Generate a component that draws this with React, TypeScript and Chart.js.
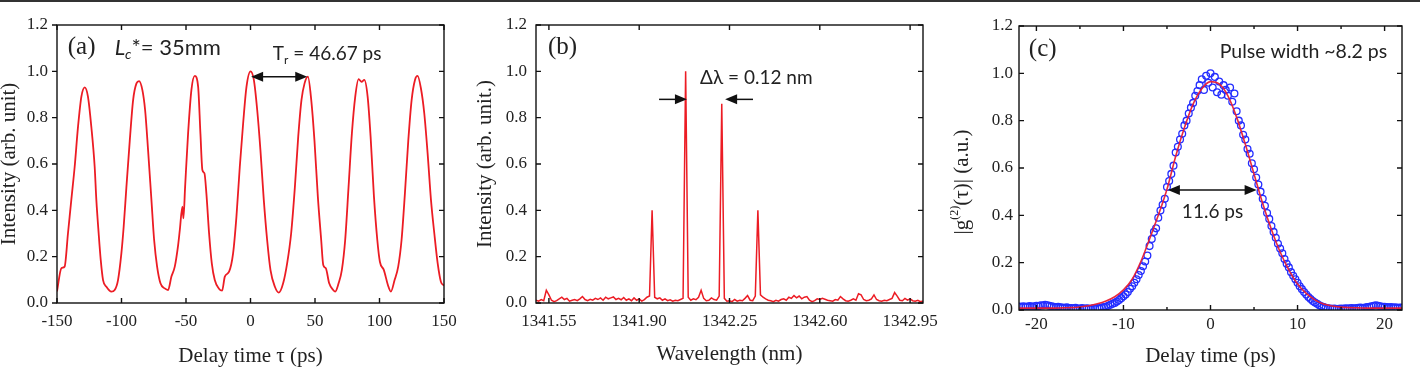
import React, { useEffect, useRef } from "react";
import { Chart, registerables } from "chart.js";

Chart.register(...registerables);

const SERIF = '"Liberation Serif", "Times New Roman", serif';
const SANS = 'Lato, "Open Sans", sans-serif';
const INK = "#222";
const RED = "rgb(236,28,36)";
const BLUE = "rgb(35,45,255)";

// ---------- (a) pulse-train autocorrelation ----------
const DELAY_A = [
  -150, -146.6, -144.1, -141.5, -138.9, -136.3, -133.7, -131.1, -128.5, -126.0,
  -123.4, -120.8, -119.5, -117.7, -116.1, -114.3, -111.7, -107.8, -105.3, -102.7,
  -100.1, -98.3, -96.2, -93.6, -91.0, -88.4, -86.4, -83.8, -81.7, -79.4,
  -76.8, -74.7, -72.4, -69.8, -66.5, -63.9, -61.3, -58.7, -56.1, -54.8,
  -52.8, -52.0, -50.7, -48.4, -45.8, -43.2, -40.6, -38.8, -37.3, -35.7,
  -34.2, -32.1, -30.0, -27.7, -24.6, -22.0, -19.9, -16.6, -13.5, -10.9,
  -8.3, -5.7, -3.1, 0, 2.6, 5.2, 7.7, 10.3, 12.9, 15.5,
  18.9, 22.0, 25.3, 28.4, 31.5, 34.4, 37.0, 39.5, 41.9, 44.5,
  47.1, 49.6, 52.2, 54.8, 56.4, 58.4, 61.0, 64.1, 65.7, 68.3,
  70.8, 73.4, 76.0, 78.6, 81.2, 83.8, 86.1, 88.2, 90.8, 93.1,
  95.7, 98.3, 100.3, 103.4, 106.5, 108.8, 111.7, 114.5, 117.1, 119.7,
  122.3, 124.9, 127.5, 129.5, 132.1, 134.7, 137.3, 139.9, 142.5, 145.1,
  147.6, 150,
];
const INTENSITY_A = [
  0.05, 0.15, 0.157, 0.3, 0.445, 0.588, 0.761, 0.891, 0.931, 0.891,
  0.761, 0.588, 0.445, 0.3, 0.186, 0.099, 0.07, 0.049, 0.056, 0.099,
  0.214, 0.33, 0.5, 0.7, 0.876, 0.948, 0.958, 0.919, 0.833, 0.66,
  0.445, 0.272, 0.157, 0.085, 0.063, 0.056, 0.114, 0.157, 0.25, 0.315,
  0.416, 0.365, 0.5, 0.73, 0.92, 0.98, 0.934, 0.73, 0.574, 0.56,
  0.473, 0.3, 0.171, 0.099, 0.063, 0.053, 0.114, 0.135, 0.214, 0.373,
  0.588, 0.776, 0.934, 1.0, 0.963, 0.833, 0.66, 0.445, 0.272, 0.142,
  0.07, 0.045, 0.085, 0.171, 0.3, 0.5, 0.718, 0.876, 0.948, 0.977,
  0.876, 0.7, 0.459, 0.272, 0.164, 0.15, 0.085, 0.056, 0.049, 0.085,
  0.142, 0.272, 0.5, 0.732, 0.891, 0.966, 0.955, 0.963, 0.891, 0.718,
  0.459, 0.272, 0.178, 0.142, 0.078, 0.049, 0.099, 0.157, 0.272, 0.473,
  0.7, 0.876, 0.963, 0.98, 0.927, 0.819, 0.646, 0.445, 0.3, 0.171,
  0.092, 0.075,
];
const TICKS_A_X = [-150, -100, -50, 0, 50, 100, 150];
const TICKS_Y = [0, 0.2, 0.4, 0.6, 0.8, 1.0, 1.2];

// ---------- (b) optical spectrum ----------
const WL_START = 1341.5;
const WL_STEP = 0.01;
const INTENSITY_B = [
  0.012, 0.008, 0.015, 0.01, 0.055, 0.035, 0.012, 0.006, 0.01, 0.018,
  0.025, 0.015, 0.02, 0.008, 0.012, 0.015, 0.01, 0.018, 0.028, 0.015,
  0.01, 0.016, 0.012, 0.02, 0.015, 0.022, 0.012, 0.025, 0.018, 0.022,
  0.026, 0.015, 0.02, 0.014, 0.024, 0.012, 0.018, 0.01, 0.022, 0.012,
  0.018, 0.008, 0.015, 0.025, 0.03, 0.4, 0.025, 0.018, 0.022, 0.012,
  0.018, 0.01, 0.014, 0.008, 0.012, 0.01, 0.015, 0.02, 1.0, 0.025,
  0.012, 0.018, 0.014, 0.025, 0.055, 0.02, 0.01, 0.012, 0.022, 0.015,
  0.012, 0.03, 0.86, 0.02, 0.008, 0.01, 0.006, 0.015, 0.008, 0.012,
  0.01, 0.02, 0.032, 0.012, 0.01, 0.03, 0.4, 0.035, 0.025, 0.018,
  0.012, 0.01, 0.006, 0.012, 0.008, 0.015, 0.018, 0.012, 0.025, 0.02,
  0.032, 0.022, 0.03, 0.018, 0.025, 0.028, 0.012, 0.006, 0.01, 0.018,
  0.015, 0.02, 0.016, 0.012, 0.01, 0.008, 0.015, 0.012, 0.028, 0.018,
  0.01, 0.008, 0.012, 0.018, 0.012, 0.04, 0.035, 0.015, 0.01, 0.012,
  0.018, 0.035, 0.015, 0.01, 0.008, 0.012, 0.01, 0.015, 0.02, 0.045,
  0.03, 0.012, 0.01, 0.02, 0.012, 0.018, 0.01, 0.008, 0.012, 0.006,
  0.008,
];
const TICKS_B_X = [1341.55, 1341.9, 1342.25, 1342.6, 1342.95];

// ---------- (c) autocorrelation of a single pulse ----------
const FIT_START = -22;
const FIT_STEP = 1;
const FIT_C = [
  0.008, 0.008, 0.008, 0.008, 0.008, 0.009, 0.01, 0.013, 0.018, 0.026,
  0.038, 0.056, 0.085, 0.13, 0.205, 0.3, 0.4, 0.51, 0.65, 0.77,
  0.87, 0.935, 0.965, 0.955, 0.905, 0.815, 0.7, 0.575, 0.45, 0.34,
  0.245, 0.17, 0.11, 0.07, 0.043, 0.025, 0.017, 0.012, 0.01, 0.009,
  0.008, 0.008, 0.008, 0.008, 0.008,
];
const MEAS_START = -22;
const MEAS_STEP = 0.25;
const MEAS_C = [
  0.015, 0.014, 0.016, 0.013, 0.015, 0.017, 0.014, 0.016,
  0.018, 0.016, 0.02, 0.019, 0.022, 0.02, 0.018, 0.016,
  0.014, 0.012, 0.013, 0.011, 0.01, 0.009, 0.011, 0.008,
  0.008, 0.007, 0.009, 0.006, 0.006, 0.008, 0.005, 0.007,
  0.006, 0.004, 0.007, 0.005, 0.008, 0.006, 0.01, 0.012,
  0.014, 0.018, 0.022, 0.026, 0.03, 0.036, 0.042, 0.05,
  0.058, 0.066, 0.076, 0.09, 0.1, 0.115, 0.13, 0.148,
  0.165, 0.185, 0.205, 0.23, 0.27, 0.3, 0.33, 0.345,
  0.39, 0.42, 0.445, 0.47, 0.52, 0.545, 0.575, 0.61,
  0.665, 0.69, 0.72, 0.745, 0.78, 0.8, 0.83, 0.855,
  0.875, 0.905, 0.925, 0.95, 0.975, 0.93, 0.99, 0.96,
  1.0, 0.94, 0.985, 0.92, 0.965, 0.91, 0.95, 0.93,
  0.905, 0.94, 0.88, 0.915, 0.84, 0.8, 0.78, 0.74,
  0.72, 0.68, 0.66, 0.62, 0.595, 0.56, 0.53, 0.5,
  0.47, 0.44, 0.41, 0.385, 0.355, 0.33, 0.305, 0.28,
  0.26, 0.24, 0.215, 0.195, 0.18, 0.16, 0.145, 0.13,
  0.115, 0.1, 0.088, 0.076, 0.065, 0.055, 0.046, 0.038,
  0.032, 0.026, 0.02, 0.016, 0.012, 0.009, 0.007, 0.006,
  0.005, 0.006, 0.004, 0.005, 0.006, 0.005, 0.007, 0.006,
  0.007, 0.008, 0.006, 0.008, 0.009, 0.01, 0.008, 0.01,
  0.012, 0.014, 0.016, 0.018, 0.02, 0.018, 0.016, 0.014,
  0.013, 0.012, 0.011, 0.012, 0.01, 0.011, 0.009, 0.01,
  0.01,
];
const TICKS_C_X = [-20, -10, 0, 10, 20];
const MINOR_C_X = [-15, -5, 5, 15];

// ---------- drawing helpers ----------
type Run = { t: string; size: number; italic?: boolean; family?: string; dy?: number };

const fontOf = (r: Run) => `${r.italic ? "italic " : ""}${r.size}px ${r.family ?? SANS}`;

function drawRuns(ctx: CanvasRenderingContext2D, runs: Run[], x: number, y: number, align: "left" | "right" | "center") {
  let total = 0;
  for (const r of runs) {
    ctx.font = fontOf(r);
    total += ctx.measureText(r.t).width;
  }
  let cx = align === "left" ? x : align === "right" ? x - total : x - total / 2;
  ctx.textAlign = "left";
  for (const r of runs) {
    ctx.font = fontOf(r);
    ctx.fillText(r.t, cx, y + (r.dy ?? 0));
    cx += ctx.measureText(r.t).width;
  }
}

function arrowHead(ctx: CanvasRenderingContext2D, tipX: number, y: number, dir: number) {
  const len = 12;
  const half = 5;
  ctx.beginPath();
  ctx.moveTo(tipX, y);
  ctx.lineTo(tipX - dir * len, y - half);
  ctx.lineTo(tipX - dir * len, y + half);
  ctx.closePath();
  ctx.fill();
}

type Note =
  | { type: "arrow"; from: number; to: number; at: number; both: boolean }
  | { type: "text"; x: number; y: number; align: "left" | "right" | "center"; runs: Run[] };

interface Spec {
  xMin: number;
  xMax: number;
  xTicks: number[];
  xMinor: number[];
  xFormat: (v: number) => string;
  xTitle: string;
  yTitle: string | null;
  customYTitle?: { dx: number; dy: number; runs: Run[] };
  yTitlePad: number;
  xTitlePad: number;
  xTickPad: number;
  yTickPad: number;
  yAxisWidth: number;
  xAxisHeight: number;
  padRight: number;
  padTop: number;
  leftTicksOut: boolean;
  notes: Note[];
  datasets: any[];
}

function overlay(spec: Spec) {
  return {
    id: "frameAndNotes",
    afterDraw(chart: any) {
      const { ctx, chartArea } = chart;
      const { left, right, top, bottom } = chartArea;
      const xs = chart.scales.x;
      const ys = chart.scales.y;
      ctx.save();
      ctx.strokeStyle = "#111";
      ctx.lineWidth = 1.4;
      ctx.strokeRect(left, top, right - left, bottom - top);
      ctx.beginPath();
      const major = 5;
      const minor = 3;
      for (const v of spec.xTicks) {
        const px = xs.getPixelForValue(v);
        ctx.moveTo(px, bottom);
        ctx.lineTo(px, bottom - major);
        ctx.moveTo(px, top);
        ctx.lineTo(px, top + major);
      }
      for (const v of spec.xMinor) {
        const px = xs.getPixelForValue(v);
        ctx.moveTo(px, bottom);
        ctx.lineTo(px, bottom - minor);
        ctx.moveTo(px, top);
        ctx.lineTo(px, top + minor);
      }
      for (const v of TICKS_Y) {
        const py = ys.getPixelForValue(v);
        ctx.moveTo(left, py);
        ctx.lineTo(spec.leftTicksOut ? left - major : left + major, py);
        ctx.moveTo(right, py);
        ctx.lineTo(right - major, py);
      }
      ctx.stroke();

      ctx.fillStyle = INK;
      ctx.strokeStyle = "#111";
      ctx.lineWidth = 1.5;
      ctx.textBaseline = "alphabetic";
      for (const n of spec.notes) {
        if (n.type === "arrow") {
          const x1 = xs.getPixelForValue(n.from);
          const x2 = xs.getPixelForValue(n.to);
          const y = ys.getPixelForValue(n.at);
          const dir = Math.sign(x2 - x1);
          ctx.beginPath();
          ctx.moveTo(n.both ? x1 + dir * 6 : x1, y);
          ctx.lineTo(x2 - dir * 6, y);
          ctx.stroke();
          ctx.fillStyle = "#111";
          arrowHead(ctx, x2, y, dir);
          if (n.both) arrowHead(ctx, x1, y, -dir);
          ctx.fillStyle = INK;
        } else {
          drawRuns(ctx, n.runs, xs.getPixelForValue(n.x), ys.getPixelForValue(n.y), n.align);
        }
      }

      if (spec.customYTitle) {
        const t = spec.customYTitle;
        ctx.save();
        ctx.translate(left + t.dx, (top + bottom) / 2 + t.dy);
        ctx.rotate(-Math.PI / 2);
        ctx.textBaseline = "middle";
        drawRuns(ctx, t.runs, 0, 0, "center");
        ctx.restore();
      }
      ctx.restore();
    },
  };
}

function buildConfig(spec: Spec): any {
  const tickFont = { family: SERIF, size: 17 };
  const titleFont = { family: SERIF, size: 21 };
  return {
    type: "line",
    data: { datasets: spec.datasets },
    options: {
      animation: false,
      responsive: false,
      events: [],
      layout: { padding: { left: 0, right: spec.padRight, top: spec.padTop, bottom: 0 } },
      plugins: { legend: { display: false }, tooltip: { enabled: false } },
      scales: {
        x: {
          type: "linear",
          min: spec.xMin,
          max: spec.xMax,
          grid: { display: false, drawTicks: false },
          border: { display: false },
          afterBuildTicks: (s: any) => {
            s.ticks = spec.xTicks.map((value) => ({ value }));
          },
          afterFit: (s: any) => {
            s.height = spec.xAxisHeight;
            s.paddingLeft = 0;
            s.paddingRight = 0;
          },
          ticks: {
            autoSkip: false,
            maxRotation: 0,
            minRotation: 0,
            padding: spec.xTickPad,
            color: INK,
            font: tickFont,
            callback: (v: any) => spec.xFormat(Number(v)),
          },
          title: {
            display: true,
            text: spec.xTitle,
            color: INK,
            font: titleFont,
            padding: { top: 0, bottom: spec.xTitlePad },
          },
        },
        y: {
          type: "linear",
          min: 0,
          max: 1.2,
          grid: { display: false, drawTicks: false },
          border: { display: false },
          afterBuildTicks: (s: any) => {
            s.ticks = TICKS_Y.map((value) => ({ value }));
          },
          afterFit: (s: any) => {
            s.width = spec.yAxisWidth;
            s.paddingTop = 0;
            s.paddingBottom = 0;
          },
          ticks: {
            autoSkip: false,
            padding: spec.yTickPad,
            color: INK,
            font: tickFont,
            callback: (v: any) => Number(v).toFixed(1),
          },
          title: {
            display: spec.yTitle !== null,
            text: spec.yTitle ?? "",
            color: INK,
            font: titleFont,
            padding: { top: spec.yTitlePad, bottom: 0 },
          },
        },
      },
    },
    plugins: [overlay(spec)],
  };
}

const specA: Spec = {
  xMin: -150,
  xMax: 150,
  xTicks: TICKS_A_X,
  xMinor: [],
  xFormat: (v) => String(v),
  xTitle: "Delay time τ (ps)",
  yTitle: "Intensity (arb. unit)",
  yTitlePad: -3,
  xTitlePad: 5,
  xTickPad: 8,
  yTickPad: 9,
  yAxisWidth: 57,
  xAxisHeight: 71,
  padRight: 26,
  padTop: 25,
  leftTicksOut: true,
  notes: [
    { type: "text", x: -141.7, y: 1.075, align: "left", runs: [{ t: "(a)", size: 25, family: SERIF }] },
    {
      type: "text",
      x: -105.3,
      y: 1.07,
      align: "left",
      runs: [
        { t: "L", size: 22, italic: true },
        { t: "c", size: 14, italic: true, dy: 4 },
        { t: "*= 35mm", size: 22 },
      ],
    },
    {
      type: "text",
      x: 17.3,
      y: 1.049,
      align: "left",
      runs: [
        { t: "T", size: 19 },
        { t: "r", size: 12, dy: 4 },
        { t: " = 46.67 ps", size: 19 },
      ],
    },
    { type: "arrow", from: 0.5, to: 44, at: 0.977, both: true },
  ],
  datasets: [
    {
      data: DELAY_A.map((x, i) => ({ x, y: INTENSITY_A[i] })),
      borderColor: RED,
      borderWidth: 1.8,
      pointRadius: 0,
      cubicInterpolationMode: "monotone",
      fill: false,
    },
  ],
};

const specB: Spec = {
  xMin: 1341.5,
  xMax: 1343.0,
  xTicks: TICKS_B_X,
  xMinor: [],
  xFormat: (v) => v.toFixed(2),
  xTitle: "Wavelength (nm)",
  yTitle: "Intensity (arb. unit.)",
  yTitlePad: 3,
  xTitlePad: 7,
  xTickPad: 8,
  yTickPad: 9,
  yAxisWidth: 66,
  xAxisHeight: 71,
  padRight: 27,
  padTop: 25,
  leftTicksOut: false,
  notes: [
    { type: "text", x: 1341.5465, y: 1.075, align: "left", runs: [{ t: "(b)", size: 25, family: SERIF }] },
    { type: "text", x: 1342.1357, y: 0.945, align: "left", runs: [{ t: "Δλ = 0.12 nm", size: 19 }] },
    { type: "arrow", from: 1341.977, to: 1342.085, at: 0.879, both: false },
    { type: "arrow", from: 1342.341, to: 1342.233, at: 0.879, both: false },
  ],
  datasets: [
    {
      data: INTENSITY_B.map((y, i) => ({ x: WL_START + i * WL_STEP, y })),
      borderColor: RED,
      borderWidth: 1.5,
      pointRadius: 0,
      tension: 0,
      fill: false,
    },
  ],
};

const specC: Spec = {
  xMin: -22,
  xMax: 22,
  xTicks: TICKS_C_X,
  xMinor: MINOR_C_X,
  xFormat: (v) => String(v),
  xTitle: "Delay time (ps)",
  yTitle: null,
  customYTitle: {
    dx: -57,
    dy: 14,
    runs: [
      { t: "|g", size: 21, family: SERIF },
      { t: "(2)", size: 12, family: SERIF, dy: -7 },
      { t: "(τ)| (a.u.)", size: 21, family: SERIF },
    ],
  },
  yTitlePad: 0,
  xTitlePad: 5,
  xTickPad: 4,
  yTickPad: 6,
  yAxisWidth: 69,
  xAxisHeight: 64,
  padRight: 18,
  padTop: 26,
  leftTicksOut: false,
  notes: [
    { type: "text", x: -20.87, y: 1.075, align: "left", runs: [{ t: "(c)", size: 25, family: SERIF }] },
    { type: "text", x: 20.3, y: 1.063, align: "right", runs: [{ t: "Pulse width ~8.2 ps", size: 19.5 }] },
    { type: "text", x: 0.23, y: 0.387, align: "center", runs: [{ t: "11.6 ps", size: 19 }] },
    { type: "arrow", from: -4.9, to: 5.3, at: 0.507, both: true },
  ],
  datasets: [
    {
      data: FIT_C.map((y, i) => ({ x: FIT_START + i * FIT_STEP, y })),
      borderColor: "rgba(232,30,52,0.95)",
      borderWidth: 1.6,
      pointRadius: 0,
      cubicInterpolationMode: "monotone",
      fill: false,
      order: 0,
    },
    {
      data: MEAS_C.map((y, i) => ({ x: MEAS_START + i * MEAS_STEP, y })),
      showLine: false,
      pointRadius: 3.4,
      pointBorderWidth: 1.3,
      pointBorderColor: BLUE,
      pointBackgroundColor: "rgba(0,0,0,0)",
      borderColor: BLUE,
      fill: false,
      order: 1,
    },
  ],
};

function Panel({ left, width, spec }: { left: number; width: number; spec: Spec }) {
  const ref = useRef<HTMLCanvasElement>(null);
  useEffect(() => {
    if (!ref.current) return;
    const chart = new Chart(ref.current, buildConfig(spec));
    return () => chart.destroy();
  }, [spec]);
  return (
    <div style={{ position: "absolute", left, top: 0, width, height: 374 }}>
      <canvas ref={ref} width={width} height={374} style={{ display: "block" }} />
    </div>
  );
}

export default function App() {
  return (
    <div
      style={{
        position: "absolute",
        left: 0,
        top: 0,
        width: 1420,
        height: 374,
        background: "#fff",
        overflow: "hidden",
      }}
    >
      <Panel left={0} width={470} spec={specA} />
      <Panel left={470} width={480} spec={specB} />
      <Panel left={950} width={470} spec={specC} />
      <div style={{ position: "absolute", left: 0, top: 0, width: 1420, height: 2, background: "#333" }} />
    </div>
  );
}
